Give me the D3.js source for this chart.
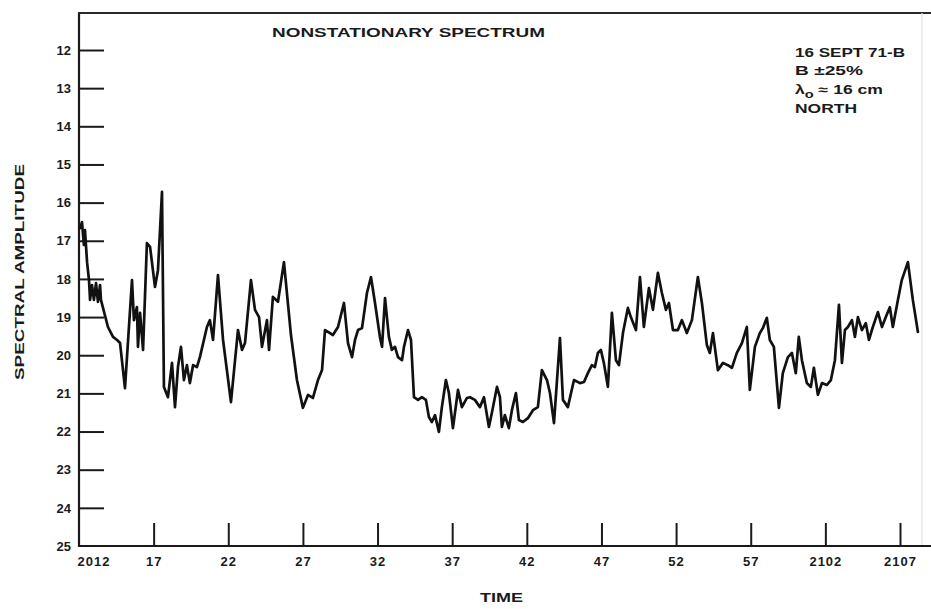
<!DOCTYPE html>
<html>
<head>
<meta charset="utf-8">
<script src="https://cdn.jsdelivr.net/npm/d3@7"></script>
<style>
  html, body { margin: 0; padding: 0; background: #fff; }
  svg { display: block; }
  text { font-family: "Liberation Sans", Arial, "DejaVu Sans", sans-serif; font-weight: bold; fill: #1a1a1a; }
</style>
</head>
<body>
<svg id="chart" width="931" height="609"></svg>
<script>
// Time in minutes after 20:12, and the spectral amplitude at each sample.
const minutes = [
  0.07,0.20,0.33,0.40,0.54,0.67,0.74,0.87,1.00,1.14,1.27,1.41,1.47,1.94,2.28,2.55,2.75,3.08,3.55,3.68,
  3.88,3.95,4.09,4.29,4.55,4.76,5.09,5.29,5.56,5.69,5.96,6.23,6.43,6.63,6.83,7.03,7.23,7.43,7.64,7.90,
  8.10,8.57,8.77,8.98,9.31,9.65,10.18,10.65,10.92,11.12,11.52,11.79,12.06,12.26,12.59,12.73,12.99,13.33,13.73,
  14.20,14.60,15.00,15.34,15.67,16.01,16.28,16.48,16.68,17.01,17.35,17.75,18.02,18.29,18.49,18.69,18.96,19.29,
  19.56,19.83,20.16,20.30,20.50,20.76,20.96,21.17,21.37,21.64,21.77,22.04,22.24,22.44,22.71,22.97,23.24,23.44,
  23.64,23.85,24.11,24.31,24.58,24.78,25.05,25.39,25.65,25.99,26.19,26.52,26.86,27.13,27.46,27.66,28.00,28.20,
  28.33,28.53,28.80,29.00,29.27,29.47,29.74,30.07,30.41,30.74,31.01,31.35,31.55,31.82,32.22,32.42,32.75,33.16,
  33.56,33.83,34.09,34.36,34.56,34.76,34.96,35.16,35.43,35.70,35.97,36.17,36.44,36.77,36.97,37.31,37.58,37.84,
  38.18,38.45,38.78,39.05,39.32,39.52,39.79,40.12,40.39,40.72,41.06,41.46,41.73,42.06,
  42.26,42.47,42.80,43.14,43.47,43.74,44.07,44.41,44.74,44.94,45.28,45.61,45.81,46.08,46.28,46.55,46.89,47.15,
  47.49,47.76,48.02,48.22,48.43,48.76,49.03,49.23,49.50,49.77,50.10,50.37,50.64,50.91,51.11,51.31,51.51,51.78,
  51.98,52.18,52.45,52.71,52.92,53.18,53.52,53.79,54.05,54.32,54.52,54.86,55.12,55.53,55.86,56.20
];
const amplitude = [
  16.67,16.51,17.11,16.72,17.56,18.03,18.55,18.16,18.55,18.11,18.60,18.16,18.55,19.26,19.52,19.60,19.68,20.86,18.03,19.08,
  18.74,19.78,18.89,19.86,17.06,17.16,18.21,17.77,15.72,20.83,21.10,20.20,21.36,20.31,19.78,20.65,20.26,20.73,20.26,20.31,
  20.05,19.26,19.08,19.60,17.90,19.60,21.23,19.34,19.86,19.68,18.03,18.81,19.00,19.78,19.08,19.86,18.47,18.60,17.56,
  19.47,20.65,21.38,21.04,21.12,20.65,20.39,19.34,19.39,19.47,19.26,18.63,19.68,20.05,19.60,19.34,19.29,18.37,
  17.95,18.63,19.52,19.78,18.50,19.52,19.86,19.78,20.05,20.13,19.78,19.34,19.60,21.10,21.17,21.10,21.17,21.62,
  21.75,21.57,22.01,21.36,20.65,20.99,21.91,20.91,21.36,21.12,21.10,21.17,21.36,21.10,21.88,21.51,20.83,21.10,
  21.88,21.57,21.91,21.44,20.99,21.70,21.75,21.65,21.44,21.36,20.39,20.65,20.99,21.78,19.55,21.17,21.36,20.65,
  20.73,20.70,20.47,20.26,20.31,19.94,19.86,20.20,20.83,18.89,20.13,20.26,19.42,18.76,19.00,19.34,17.95,19.26,
  18.24,18.81,17.84,18.37,18.81,18.63,19.34,19.34,19.08,19.42,19.08,17.95,18.63,19.73,
  19.94,19.42,20.39,20.20,20.26,20.33,19.94,19.68,19.26,20.91,19.78,19.42,19.29,19.02,19.60,19.78,21.38,20.47,
  20.05,19.94,20.47,19.52,20.13,20.73,20.83,20.33,21.04,20.73,20.78,20.65,20.13,18.68,20.20,19.34,19.26,19.08,
  19.52,19.00,19.34,19.16,19.60,19.26,18.87,19.26,19.00,18.74,19.26,18.55,18.03,17.56,18.55,19.39
];

const timeTicks = [0, 5, 10, 15, 20, 25, 30, 35, 40, 45, 50, 55];
const timeTickLabels = ["2012", "17", "22", "27", "32", "37", "42", "47", "52", "57", "2102", "2107"];
const amplitudeTicks = [12, 13, 14, 15, 16, 17, 18, 19, 20, 21, 22, 23, 24, 25];

const titleText = "NONSTATIONARY SPECTRUM";
const xAxisTitle = "TIME";
const yAxisTitle = "SPECTRAL AMPLITUDE";

const svg = d3.select("#chart");
const W = 931, H = 609;

const x = d3.scaleLinear().domain([0, 55]).range([79, 900]);
const y = d3.scaleLinear().domain([12, 25]).range([50, 546]);

const ink = "#1a1a1a";
const frameTop = y(11.03);

// frame: left edge, top edge, faint right edge, bottom edge
svg.append("line").attr("x1", 79).attr("x2", 79).attr("y1", frameTop - 1).attr("y2", y(25) + 1)
  .attr("stroke", ink).attr("stroke-width", 2.2);
svg.append("line").attr("x1", 78).attr("x2", W).attr("y1", frameTop).attr("y2", frameTop)
  .attr("stroke", "#2a2a2a").attr("stroke-width", 2);
svg.append("line").attr("x1", 922).attr("x2", 922).attr("y1", frameTop).attr("y2", y(25))
  .attr("stroke", "#e2e2e2").attr("stroke-width", 1.2);
svg.append("line").attr("x1", 78).attr("x2", W).attr("y1", y(25)).attr("y2", y(25))
  .attr("stroke", ink).attr("stroke-width", 2.2);

// amplitude axis, ticks pointing into the plot
const yAxis = d3.axisLeft(y)
  .tickValues(amplitudeTicks)
  .tickSizeInner(-25)
  .tickSizeOuter(0)
  .tickPadding(8)
  .tickFormat(d3.format("d"));
const gy = svg.append("g").attr("transform", "translate(79,0)").call(yAxis);
gy.select(".domain").remove();
gy.selectAll(".tick line").attr("stroke", ink).attr("stroke-width", 2)
  .filter(d => d === 25).remove();
gy.selectAll(".tick text").attr("font-size", 13).attr("font-weight", "bold")
  .attr("font-family", "\"Liberation Sans\", Arial, sans-serif").attr("fill", ink);

// time axis, ticks pointing up into the plot
const xAxis = d3.axisBottom(x)
  .tickValues(timeTicks)
  .tickSizeInner(-23)
  .tickSizeOuter(0)
  .tickPadding(11)
  .tickFormat((d, i) => timeTickLabels[i]);
const gx = svg.append("g").attr("transform", `translate(0,${y(25)})`).call(xAxis);
gx.select(".domain").remove();
gx.selectAll(".tick line").attr("stroke", ink).attr("stroke-width", 2)
  .filter(d => d === 0).remove();
gx.selectAll(".tick text").attr("font-size", 13).attr("font-weight", "bold")
  .attr("letter-spacing", 1)
  .attr("font-family", "\"Liberation Sans\", Arial, sans-serif").attr("fill", ink);
gx.selectAll(".tick text").filter(d => d === 0)
  .attr("text-anchor", "start").attr("x", -2);

// spectrum trace
const series = d3.zip(minutes, amplitude);
const line = d3.line().x(d => x(d[0])).y(d => y(d[1]));
svg.append("path")
  .datum(series)
  .attr("d", line)
  .attr("fill", "none")
  .attr("stroke", "#111")
  .attr("stroke-width", 2.7)
  .attr("stroke-linejoin", "round")
  .attr("stroke-linecap", "round");

// titles
svg.append("text").attr("x", 272).attr("y", 37)
  .attr("font-size", 13).attr("textLength", 273).attr("lengthAdjust", "spacingAndGlyphs")
  .text(titleText);

svg.append("text").attr("x", 480).attr("y", 602)
  .attr("font-size", 13).attr("textLength", 43).attr("lengthAdjust", "spacingAndGlyphs")
  .text(xAxisTitle);

svg.append("text")
  .attr("transform", "translate(24,272) rotate(-90)")
  .attr("text-anchor", "middle")
  .attr("font-size", 13).attr("textLength", 216).attr("lengthAdjust", "spacingAndGlyphs")
  .text(yAxisTitle);

// run notes in the upper right corner
const notes = svg.append("g").attr("font-size", 12);
notes.append("text").attr("x", 795).attr("y", 57)
  .attr("textLength", 110).attr("lengthAdjust", "spacingAndGlyphs").text("16 SEPT 71-B");
notes.append("text").attr("x", 795).attr("y", 75)
  .attr("textLength", 68).attr("lengthAdjust", "spacingAndGlyphs").text("B ±25%");
const lam = notes.append("text").attr("x", 795).attr("y", 94)
  .attr("textLength", 88).attr("lengthAdjust", "spacingAndGlyphs");
lam.append("tspan").attr("font-size", 12).text("λ");
lam.append("tspan").attr("dy", 4).attr("font-size", 10).text("o");
lam.append("tspan").attr("dy", -4).attr("font-size", 12).text(" ≈ 16 cm");
notes.append("text").attr("x", 795).attr("y", 113)
  .attr("textLength", 62).attr("lengthAdjust", "spacingAndGlyphs").text("NORTH");
</script>
</body>
</html>
